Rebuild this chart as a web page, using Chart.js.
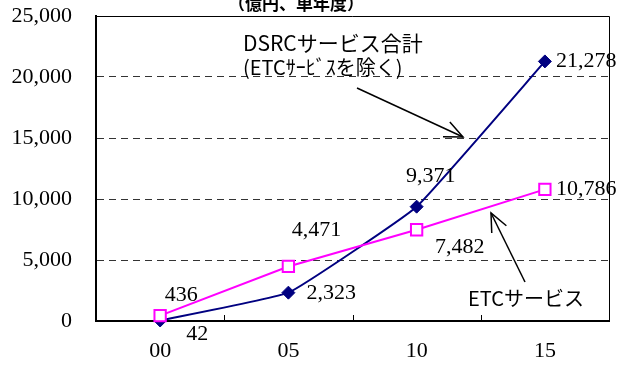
<!DOCTYPE html>
<html>
<head>
<meta charset="utf-8">
<script src="https://cdn.jsdelivr.net/npm/chart.js@4/dist/chart.umd.min.js"></script>
<style>
  html, body { margin: 0; padding: 0; background: #fff; }
  #wrap { width: 622px; height: 367px; }
</style>
</head>
<body>
<div id="wrap"><canvas id="c" width="622" height="367"></canvas></div>
<script>
// Fiscal years (two-digit) on the category axis
const years = ['00', '05', '10', '15'];
// DSRC services total, excluding ETC (100 million yen, single year)
const dsrcTotal = [42, 2323, 9371, 21278];
// ETC services (100 million yen, single year)
const etcService = [436, 4471, 7482, 10786];
// Value axis ticks
const yTicks = [0, 5000, 10000, 15000, 20000, 25000];

const serif = '"Liberation Serif", "Times New Roman", serif';
const gothic = '"Noto Sans CJK JP", "Noto Sans", sans-serif';
const fmt = v => v.toLocaleString('en-US');

// Per-point label placement: [dx, dy, align]
const dsrcLabelPos = [[26, 14, 'left'], [18, 1, 'left'], [14, -30, 'center'], [11, 0, 'left']];
const etcLabelPos = [[21, -20, 'center'], [28, -36, 'center'], [43, 17, 'center'], [11, 0, 'left']];

const decorations = {
  id: 'decorations',
  afterDraw(chart) {
    const { ctx, chartArea: a, scales } = chart;
    ctx.save();

    // top and right frame lines
    ctx.strokeStyle = '#000';
    ctx.lineWidth = 1;
    ctx.beginPath();
    ctx.moveTo(a.left, a.top + 0.5);
    ctx.lineTo(a.right + 0.5, a.top + 0.5);
    ctx.lineTo(a.right + 0.5, a.bottom);
    ctx.stroke();

    // inward tick marks between categories
    const xs = scales.x;
    ctx.lineWidth = 1;
    for (let i = 0; i < years.length - 1; i++) {
      const px = Math.round((xs.getPixelForValue(i) + xs.getPixelForValue(i + 1)) / 2) + 0.5;
      ctx.beginPath();
      ctx.moveTo(px, a.bottom);
      ctx.lineTo(px, a.bottom - 6);
      ctx.stroke();
    }

    // value labels
    ctx.fillStyle = '#000';
    ctx.font = '22px ' + serif;
    ctx.textBaseline = 'middle';
    const drawLabels = (dsIndex, values, pos) => {
      const meta = chart.getDatasetMeta(dsIndex);
      meta.data.forEach((pt, i) => {
        const [dx, dy, align] = pos[i];
        ctx.textAlign = align;
        ctx.fillText(fmt(values[i]), pt.x + dx, pt.y + dy);
      });
    };
    drawLabels(1, dsrcTotal, dsrcLabelPos);
    drawLabels(0, etcService, etcLabelPos);

    // unit caption at the top
    ctx.textAlign = 'center';
    ctx.font = 'bold 17px ' + gothic;
    ctx.fillText('（億円、単年度）', 296, 4);

    // series callouts
    ctx.textAlign = 'left';
    ctx.font = '21px ' + gothic;
    ctx.fillText('DSRCサービス合計', 243, 43);
    ctx.font = '20px ' + gothic;
    ctx.fillText('(ETCｻｰﾋﾞｽを除く)', 243, 67);
    ctx.font = '20px ' + gothic;
    ctx.fillText('ETCサービス', 468, 298);

    const arrow = (x1, y1, x2, y2) => {
      ctx.strokeStyle = '#000';
      ctx.lineWidth = 1.5;
      ctx.beginPath();
      ctx.moveTo(x1, y1);
      ctx.lineTo(x2, y2);
      ctx.stroke();
      const ang = Math.atan2(y2 - y1, x2 - x1);
      const len = 20, spread = 0.42;
      ctx.beginPath();
      ctx.moveTo(x2 - len * Math.cos(ang - spread), y2 - len * Math.sin(ang - spread));
      ctx.lineTo(x2, y2);
      ctx.lineTo(x2 - len * Math.cos(ang + spread), y2 - len * Math.sin(ang + spread));
      ctx.stroke();
    };
    arrow(357, 88, 463, 137);
    arrow(525, 282, 491, 213);

    ctx.restore();
  }
};

new Chart(document.getElementById('c'), {
  type: 'line',
  data: {
    labels: years,
    datasets: [
      {
        label: 'ETCサービス',
        data: etcService,
        borderColor: '#FF00FF',
        borderWidth: 2,
        tension: 0,
        clip: false,
        pointStyle: 'rect',
        pointRadius: 8,
        pointBorderWidth: 2,
        pointBackgroundColor: '#FFFFFF',
        pointBorderColor: '#FF00FF'
      },
      {
        label: 'DSRCサービス合計',
        data: dsrcTotal,
        borderColor: '#000080',
        borderWidth: 2,
        tension: 0.1,
        clip: false,
        pointStyle: 'rectRot',
        pointRadius: 6.5,
        pointBorderWidth: 1,
        pointBackgroundColor: '#000080',
        pointBorderColor: '#000080'
      }
    ]
  },
  options: {
    responsive: false,
    animation: false,
    layout: { padding: { left: 0, right: 13, top: 16, bottom: 0 } },
    plugins: {
      legend: { display: false },
      tooltip: { enabled: false }
    },
    scales: {
      x: {
        offset: true,
        grid: { display: false, offset: true },
        border: { display: true, color: '#000', width: 2 },
        ticks: { color: '#000', font: { family: serif, size: 22 }, padding: 9 },
        afterFit(scale) { scale.height = 46; }
      },
      y: {
        min: 0,
        max: 25000,
        afterBuildTicks(scale) { scale.ticks = yTicks.map(v => ({ value: v })); },
        grid: {
          drawTicks: true,
          tickLength: 24,
          tickColor: 'rgba(0,0,0,0)',
          color: c => (c.tick && (c.tick.value === 0 || c.tick.value === 25000)) ? 'rgba(0,0,0,0)' : '#333',
          lineWidth: 1
        },
        border: { display: true, color: '#000', width: 2, dash: [7, 5] },
        ticks: {
          color: '#000',
          font: { family: serif, size: 22 },
          padding: 0,
          callback: v => fmt(v)
        },
        afterFit(scale) { scale.width = 96; }
      }
    }
  },
  plugins: [decorations]
});
</script>
</body>
</html>
